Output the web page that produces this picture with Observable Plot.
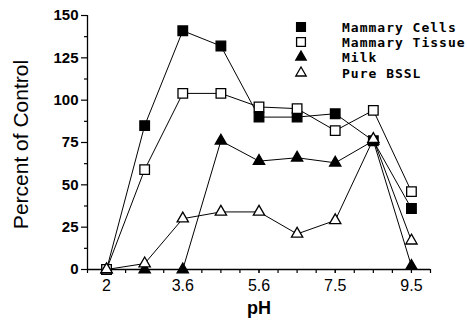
<!DOCTYPE html>
<html>
<head>
<meta charset="utf-8">
<script src="https://cdn.jsdelivr.net/npm/d3@7"></script>
<script src="https://cdn.jsdelivr.net/npm/@observablehq/plot@0.6"></script>
<style>
  body { margin: 0; background: #fff; }
  #chart { position: relative; width: 467px; height: 324px; }
</style>
</head>
<body>
<div id="chart"></div>
<script>
// x positions are equally spaced pH steps (index 0..8)
const steps = [0, 1, 2, 3, 4, 5, 6, 7, 8];
const tickIndex = [0, 2, 4, 6, 8];
const tickLabels = ["2", "3.6", "5.6", "7.5", "9.5"];
const yTicks = [0, 25, 50, 75, 100, 125, 150];

const mammaryCells   = [0, 85, 141, 132, 90, 90, 92, 76, 36];
const mammaryTissue  = [0, 59, 104, 104, 96, 95, 82, 94, 46];
const milk           = [0, 0, 0, 76, 64, 66, 63, 76, 2];
const pureBSSL       = [0, 3.5, 30, 34, 34, 21, 29, 77, 17];

const seriesNames = ["Mammary Cells", "Mammary Tissue", "Milk", "Pure BSSL"];
const seriesValues = [mammaryCells, mammaryTissue, milk, pureBSSL];
const seriesSymbol = ["square", "square", "triangle", "triangle"];
const seriesFill = ["black", "white", "black", "white"];
const seriesR = [5.4, 5.4, 4.2, 4.2];

const rows = [];
seriesNames.forEach((name, s) => {
  steps.forEach((i) => rows.push({series: name, s, x: i, y: seriesValues[s][i]}));
});

const minorX = d3.range(-0.5, 8.51, 0.5);
const minorY = d3.range(12.5, 150, 25);

const marks = [
  Plot.ruleY([0], {x1: -0.5, x2: 8.5, stroke: "black", strokeWidth: 1.3}),
  Plot.ruleX([-0.5], {y1: 0, y2: 150, stroke: "black", strokeWidth: 1.3}),
  Plot.axisX({ticks: minorX, tickSize: 4, text: null, label: null, strokeWidth: 1.2}),
  Plot.axisX({ticks: tickIndex, tickSize: 4, tickFormat: (d) => tickLabels[tickIndex.indexOf(d)],
    label: null, fontSize: 16, tickPadding: 6, fontFamily: "Liberation Sans, Arial, sans-serif"}),
  Plot.axisY({ticks: yTicks, tickSize: 6, label: null, tickPadding: 3, fontSize: 15, fontWeight: "bold",
    fontFamily: "Liberation Sans, Arial, sans-serif", strokeWidth: 1.2}),
  Plot.axisY({ticks: minorY, tickSize: 3, text: null, label: null, strokeWidth: 1.2}),
  Plot.line(rows, {x: "x", y: "y", z: "series", stroke: "black", strokeWidth: 1}),
];
seriesNames.forEach((name, s) => {
  marks.push(Plot.dot(rows.filter(d => d.s === s), {
    x: "x", y: "y", symbol: seriesSymbol[s], r: seriesR[s],
    fill: seriesFill[s], stroke: "black", strokeWidth: 1.3
  }));
});
marks.push(
  Plot.text(["Percent of Control"], {frameAnchor: "left", textAnchor: "middle", rotate: -90, dx: -66, dy: 2,
    fontSize: 21, letterSpacing: 1.2, fontFamily: "Liberation Sans, Arial, sans-serif", fill: "black"}),
  Plot.text(["pH"], {frameAnchor: "bottom", dy: 44, fontSize: 18, fontWeight: "bold",
    fontFamily: "Liberation Sans, Arial, sans-serif", fill: "black"})
);

const plot = Plot.plot({
  width: 467,
  height: 324,
  marginLeft: 87,
  marginRight: 37,
  marginTop: 15,
  marginBottom: 55,
  x: {type: "linear", domain: [-0.5, 8.5]},
  y: {domain: [0, 150]},
  style: {background: "white", color: "black"},
  marks
});

// legend
const svg = d3.select(plot);
const leg = svg.append("g");
const legY = [27, 42, 57, 73];
seriesNames.forEach((name, s) => {
  const sym = seriesSymbol[s] === "square" ? d3.symbolSquare : d3.symbolTriangle;
  leg.append("path")
    .attr("d", d3.symbol(sym, Math.PI * seriesR[s] * seriesR[s] * 0.85)())
    .attr("transform", `translate(301,${legY[s]})`)
    .attr("fill", seriesFill[s]).attr("stroke", "black").attr("stroke-width", 1.3);
  leg.append("text")
    .attr("x", 342).attr("y", legY[s]).attr("dy", "0.36em")
    .attr("text-anchor", "start")
    .attr("font-family", "DejaVu Sans Mono, monospace").attr("font-weight", "bold")
    .attr("font-size", 13).attr("letter-spacing", 1)
    .attr("fill", "black")
    .text(name);
});

document.getElementById("chart").appendChild(plot);
</script>
</body>
</html>
